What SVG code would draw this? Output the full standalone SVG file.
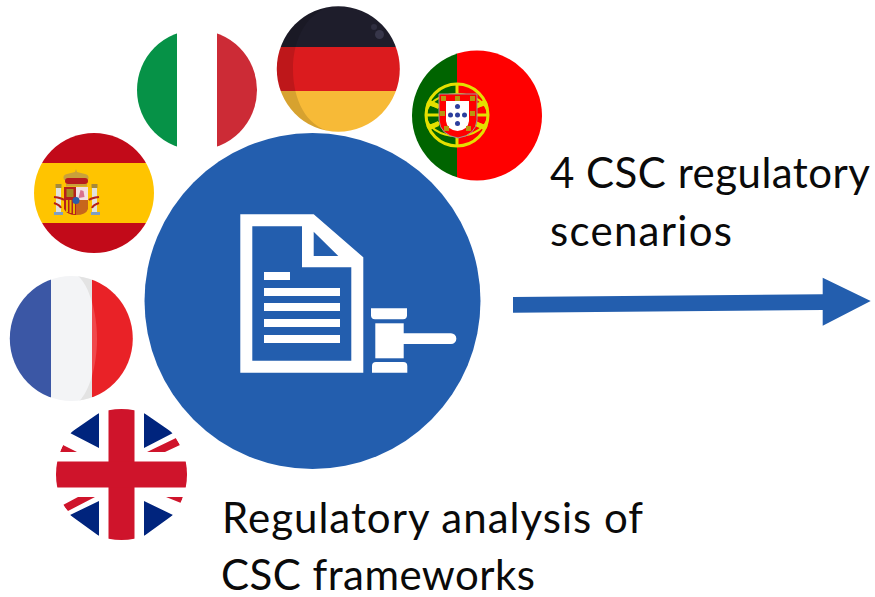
<svg xmlns="http://www.w3.org/2000/svg" width="875" height="597" viewBox="0 0 875 597">
<style>
.t{font-family:"Lato","Carlito","Open Sans",sans-serif;font-size:42px;fill:#0a0a0a}
.w{fill:#fff}
</style>
<defs>
<clipPath id="ci"><circle cx="197" cy="90" r="60"/></clipPath>
<clipPath id="ce"><circle cx="94" cy="193" r="60"/></clipPath>
<clipPath id="cd"><ellipse cx="338.300" cy="69" rx="61.500" ry="62.800"/></clipPath>
<clipPath id="cp"><circle cx="477" cy="115.500" r="65"/></clipPath>
<clipPath id="cf"><ellipse cx="71.300" cy="338.500" rx="61.500" ry="62.500"/></clipPath>
<clipPath id="cu"><circle cx="121.500" cy="474.500" r="65.500"/></clipPath>
<clipPath id="frw"><rect x="51" y="270" width="41" height="140"/></clipPath>
<clipPath id="frr"><rect x="92" y="270" width="41" height="140"/></clipPath>
</defs>
<rect width="875" height="597" fill="#fff"/>
<g id="flag-italy" clip-path="url(#ci)">
<rect x="137" y="30" width="40" height="120" fill="#069247"/>
<rect x="177" y="30" width="40" height="120" fill="#fff"/>
<rect x="217" y="30" width="40" height="120" fill="#cc2b36"/>
</g>
<g id="flag-spain" clip-path="url(#ce)">
<rect x="34" y="133" width="120" height="30" fill="#c20a19"/>
<rect x="34" y="163" width="120" height="60" fill="#ffc400"/>
<rect x="34" y="223" width="120" height="30" fill="#c20a19"/>
<rect x="56" y="188" width="5" height="24" fill="#e2e2dc"/>
<rect x="92" y="188" width="5" height="24" fill="#e2e2dc"/>
<rect x="54" y="212" width="9" height="3" fill="#7e9fc2"/>
<rect x="91" y="212" width="9" height="3" fill="#7e9fc2"/>
<rect x="55.500" y="184" width="6" height="4" fill="#a5893a"/>
<rect x="91.500" y="184" width="6" height="4" fill="#a5893a"/>
<path d="M54 197q8 1 10 3M99 197q-8 1-10 3M54 203q6 2 7 5M99 203q-6 2-7 5" fill="none" stroke="#b5201c" stroke-width="2"/>
<path d="M64 180q-2-5 3-6l8-2 1-3 1 3 8 2q5 1 3 6z" fill="#c9a13a"/>
<rect x="65" y="178" width="23" height="6" rx="3" fill="#b81c1c"/>
<rect x="66" y="184" width="21" height="2.500" fill="#c9a13a"/>
<path d="M64 187h12v28q-9 0-12-6z" fill="#b5201c"/>
<rect x="66.500" y="189" width="7" height="8" fill="#a88a20"/>
<rect x="76" y="187" width="12" height="13" fill="#f3dfe2"/>
<path d="M78.500 198l2-8 3 1 1 6z" fill="#d9708c"/>
<path d="M76 200h12v9q-2 6-12 6z" fill="#c7661c"/>
<rect x="66" y="200" width="2" height="12" fill="#e9b400"/><rect x="69.500" y="200" width="2" height="13" fill="#e9b400"/><rect x="73" y="200" width="2" height="14" fill="#e9b400"/>
<circle cx="76" cy="200.500" r="3.500" fill="#2a5ea8"/>
</g>
<g id="flag-germany" clip-path="url(#cd)">
<rect x="276" y="5" width="125" height="42" fill="#1e1d2b"/>
<rect x="276" y="47" width="125" height="44" fill="#db1b1e"/>
<rect x="276" y="91" width="125" height="42" fill="#f7ba37"/>
<path d="M342 5h-67v128h67c-33 0-49-30-49-64s18-64 49-64z" fill="#000" fill-opacity=".13"/>
<circle cx="379.500" cy="34.500" r="4.500" fill="#37364a"/>
<circle cx="374" cy="27" r="3" fill="#2f2e40"/>
</g>
<g id="flag-portugal" clip-path="url(#cp)">
<rect x="411" y="50" width="46" height="132" fill="#006400"/>
<rect x="457" y="50" width="86" height="132" fill="#f00"/>
<circle cx="457" cy="115" r="31" fill="none" stroke="#e4e000" stroke-width="3"/>
<path d="M427 103q30 12 60 0M427 127q30-12 60 0" fill="none" stroke="#e4e000" stroke-width="3"/>
<path d="M430 100l9 4-1 5-8-4zM484 100l-9 4 1 5 8-4zM430 130l9-4-1-5-8 4zM484 130l-9-4 1-5 8 4z" fill="#e4e000"/>
<ellipse cx="457" cy="115" rx="31" ry="21" fill="none" stroke="#e4e000" stroke-width="2"/>
<path d="M457 83v64M426 115h62" stroke="#e4e000" stroke-width="3"/>
<path d="M439 94h38v26q-1 15-19 18Q440 135 439 120z" fill="#f00" stroke="#9a9a9a" stroke-width="1"/>
<path d="M446 101h23v20q-1 9-11.500 10Q447 130 446 121z" fill="#fff"/>
<g fill="#2c3f9e"><circle cx="457.500" cy="106.500" r="2.500"/><circle cx="457.500" cy="115" r="2.500"/><circle cx="450.500" cy="115" r="2.500"/><circle cx="464.500" cy="115" r="2.500"/><circle cx="457.500" cy="123.500" r="2.500"/></g>
<g fill="#b9960f"><rect x="441" y="96" width="5" height="5"/><rect x="455" y="96" width="5" height="5"/><rect x="470" y="96" width="5" height="5"/><rect x="440" y="111" width="5" height="5"/><rect x="470" y="111" width="5" height="5"/><rect x="444" y="126" width="5" height="5"/><rect x="466" y="126" width="5" height="5"/></g>
</g>
<g id="flag-france" clip-path="url(#cf)">
<rect x="9" y="275" width="42" height="127" fill="#3b57a5"/>
<rect x="51" y="275" width="41" height="127" fill="#f3f4f6"/>
<rect x="92" y="275" width="42" height="127" fill="#e92227"/>
<path clip-path="url(#frw)" d="M78 276C88 284 97 310 97 339C97 368 88 394 78 402H100V276z" fill="#e3e3e3"/>
<path clip-path="url(#frr)" d="M78 276C88 284 97 310 97 339C97 368 88 394 78 402z" fill="#f0484c"/>
</g>
<g id="flag-uk" clip-path="url(#cu)">
<rect x="55" y="408" width="134" height="134" fill="#fff"/>
<path d="M99 413L70 433L99 448zM144 413V448L173 433zM99 501L70 515L99 536zM144 501V536L173 515z" fill="#00247d"/>
<path d="M60 452H77L63 445zM147 452L176 438L180 445L165 452zM63 505L78 497H95L68 511zM166 497H183L181 503z" fill="#cf142b"/>
<rect x="108.500" y="409" width="26" height="132" fill="#cf142b"/>
<rect x="56" y="461.500" width="132" height="26" fill="#cf142b"/>
</g>
<g id="main-circle">
<circle cx="312.500" cy="301" r="168" fill="#235eae"/>
<g id="document-icon" class="w">
<path fill-rule="evenodd" d="M240.300 214.300H313.700L363.300 257.300V372.700H240.300zM252.300 226.300V360.700H351.300V267.300H302V226.300zM313.700 231.700V256H338.300z"/>
<rect x="264" y="272" width="26" height="8"/>
<rect x="264" y="288" width="76" height="8"/>
<rect x="264" y="303" width="76" height="8"/>
<rect x="264" y="319" width="76" height="8"/>
<rect x="264" y="335" width="76" height="8"/>
<path d="M371 308.300h36v7q0 4-4 4h-28q-4 0-4-4z"/>
<rect x="375.300" y="323.300" width="28.400" height="35"/>
<path d="M403 333.300h48a5.300 5.300 0 0 1 0 10.700h-48z"/>
<path d="M376 362h27.300q4 0 4 4v6.700h-35.300v-6.700q0-4 4-4z"/>
</g>
</g>
<g id="connectors">
<path d="M513 297L822.700 294.300V277.700L870.700 301L822.700 325.700V310L513 312.700z" fill="#235eae"/>
</g>
<g id="labels">
<text class="t" x="550" y="188" textLength="320">4 CSC regulatory</text>
<text class="t" x="550" y="246" textLength="182">scenarios</text>
<text class="t" x="222" y="533" textLength="421">Regulatory analysis of</text>
<text class="t" x="221" y="590" textLength="314">CSC frameworks</text>
</g>
</svg>
